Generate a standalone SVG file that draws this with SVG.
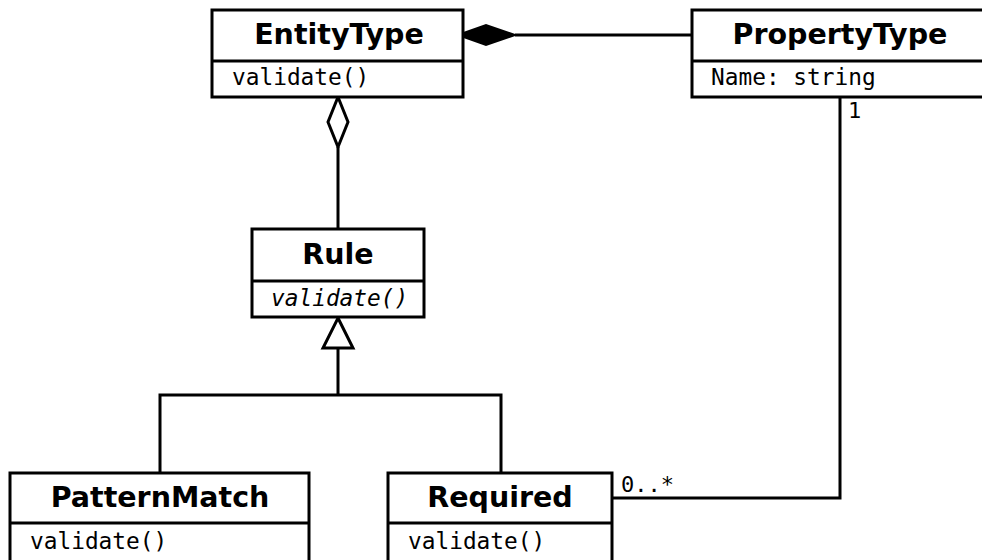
<svg xmlns="http://www.w3.org/2000/svg" width="982" height="560" viewBox="0 0 982 560">
  <defs>
    <style>
      .box { fill: #ffffff; stroke: #000000; stroke-width: 3; }
      .line { fill: none; stroke: #000000; stroke-width: 3; }
      .title { font-family: "DejaVu Sans", "Liberation Sans", sans-serif; font-weight: bold; font-size: 28.5px; text-anchor: middle; fill: #000000; }
      .member { font-family: "DejaVu Sans Mono", "Liberation Mono", monospace; font-size: 22.8px; fill: #000000; }
      .abstract { font-style: italic; }
      .mult { font-family: "DejaVu Sans Mono", "Liberation Mono", monospace; font-size: 22px; fill: #000000; }
    </style>
  </defs>
  <rect width="982" height="560" fill="#ffffff"/>

  <!-- connectors -->
  <g id="connectors">
    <!-- composition: PropertyType part of EntityType -->
    <line class="line" x1="515" y1="35" x2="692" y2="35"/>
    <polygon points="458,35 486,25 515,35 486,45" fill="#000000" stroke="#000000" stroke-width="2"/>
    <!-- aggregation: Rule held by EntityType -->
    <line class="line" x1="338" y1="147" x2="338" y2="229"/>
    <polygon points="338,97 348,122 338,147 328,122" fill="#ffffff" stroke="#000000" stroke-width="3"/>
    <!-- generalization: PatternMatch / Required extend Rule -->
    <polyline class="line" points="160,473 160,395 501,395 501,473"/>
    <line class="line" x1="338" y1="395" x2="338" y2="348"/>
    <polygon points="338,318 353,348 323,348" fill="#ffffff" stroke="#000000" stroke-width="3"/>
    <!-- association: Required -> PropertyType -->
    <polyline class="line" points="612,498 840,498 840,97"/>
    <text class="mult" x="621" y="492">0..*</text>
    <text class="mult" x="848" y="118">1</text>
  </g>

  <g id="EntityType">
    <rect class="box" x="212" y="10" width="251" height="87"/>
    <line class="line" x1="212" y1="61" x2="463" y2="61"/>
    <text class="title" x="339" y="44">EntityType</text>
    <text class="member" x="232" y="85">validate()</text>
  </g>

  <g id="PropertyType">
    <rect class="box" x="692" y="10" width="296" height="87"/>
    <line class="line" x1="692" y1="61" x2="988" y2="61"/>
    <text class="title" x="840" y="44">PropertyType</text>
    <text class="member" x="711" y="85">Name: string</text>
  </g>

  <g id="Rule">
    <rect class="box" x="252" y="229" width="172" height="88"/>
    <line class="line" x1="252" y1="281" x2="424" y2="281"/>
    <text class="title" x="338" y="264">Rule</text>
    <text class="member abstract" x="271" y="306">validate()</text>
  </g>

  <g id="PatternMatch">
    <rect class="box" x="10" y="473" width="299" height="95"/>
    <line class="line" x1="10" y1="523" x2="309" y2="523"/>
    <text class="title" x="160" y="507">PatternMatch</text>
    <text class="member" x="30" y="549">validate()</text>
  </g>

  <g id="Required">
    <rect class="box" x="388" y="473" width="224" height="95"/>
    <line class="line" x1="388" y1="523" x2="612" y2="523"/>
    <text class="title" x="500" y="507">Required</text>
    <text class="member" x="408" y="549">validate()</text>
  </g>
</svg>
